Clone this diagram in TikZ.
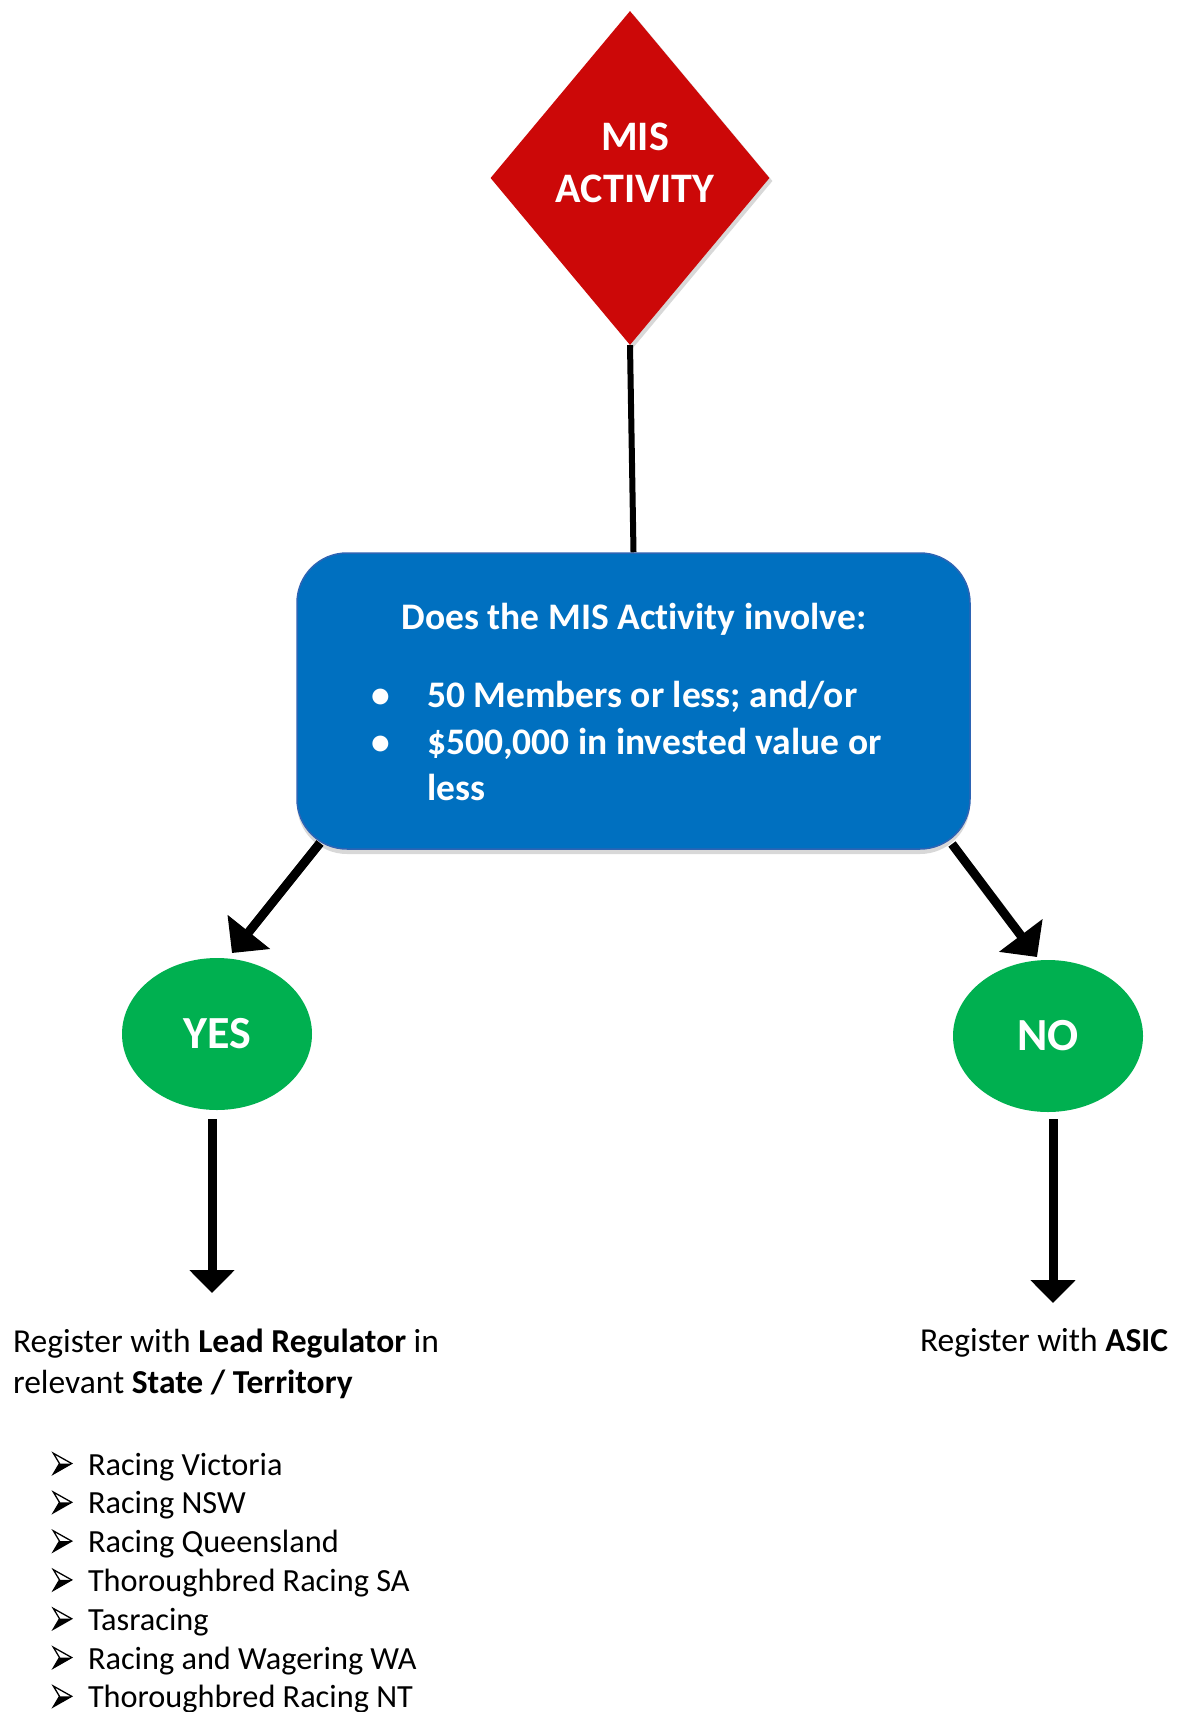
\documentclass[tikz,border=0pt]{standalone}
\usepackage{fontspec}
\setmainfont{Carlito}[Ligatures=NoCommon]
\usetikzlibrary{shapes.geometric,arrows.meta,shadows}
\definecolor{misred}{RGB}{204,8,8}
\definecolor{misblue}{RGB}{0,112,192}
\definecolor{misblueedge}{RGB}{45,100,180}
\definecolor{misgreen}{RGB}{0,176,80}
\tikzset{
  plain/.style={inner sep=0pt, outer sep=0pt},
  wtitle/.style={plain, text=white, font=\bfseries\fontsize{42}{51}\selectfont, anchor=base},
  boxtxt/.style={plain, text=white, font=\bfseries\fontsize{37.5}{46}\selectfont, anchor=base west},
  bodytxt/.style={plain, text=black, font=\fontsize{33.5}{39}\selectfont, anchor=base west},
  listtxt/.style={plain, text=black, font=\fontsize{32.3}{39}\selectfont, anchor=base west},
  answer/.style={ellipse, fill=misgreen, minimum width=190pt, minimum height=152pt, inner sep=0pt,
     text=white, font=\bfseries\fontsize{46}{50}\selectfont},
  diagarrow/.style={line width=9pt, -{Triangle[width=53pt,length=27pt]}},
  downarrow/.style={line width=9pt, -{Triangle[width=44pt,length=23pt]}},
}
\begin{document}
\begin{tikzpicture}[x=1pt,y=-1pt]
\useasboundingbox[fill=white] (0,0) rectangle (1179,1712);

% diamond
\node[diamond, fill=misred, minimum width=279pt, minimum height=334pt, inner sep=0pt,
      drop shadow={shadow xshift=3pt, shadow yshift=-3pt, opacity=0.3}] (dia) at (630,178) {};
\node[wtitle] (diaA) at (635,151) {MIS};
\node[wtitle] (diaB) at (635,202.5) {ACTIVITY};

% question box
\node[rectangle, rounded corners=50pt, fill=misblue, draw=misblueedge, line width=1.5pt,
      minimum width=673pt, minimum height=296pt, inner sep=0pt,
      drop shadow={shadow xshift=0pt, shadow yshift=-5pt, opacity=0.3}] (box) at (633.5,701) {};
\draw[line width=6pt] (dia.south) -- (box.north);
\node[boxtxt, anchor=base] (q) at (634,629.5) {Does the MIS Activity involve:};
\node[boxtxt] (b1) at (371,707) {\textbullet};
\node[boxtxt] (t1) at (427,707) {50 Members or less; and/or};
\node[boxtxt] (b2) at (371,754) {\textbullet};
\node[boxtxt] (t2) at (427,754) {\$500,000 in invested value or};
\node[boxtxt] (t3) at (427,800) {less};

% answers
\node[answer] (yes) at (217,1034) {YES};
\node[answer] (no) at (1048,1036) {NO};

\coordinate (yesFrom) at (320,843);
\coordinate (yesTo) at (232,953);
\coordinate (noFrom) at (952,844);
\coordinate (noTo) at (1037,957);
\draw[diagarrow] (yesFrom) -- (yesTo);
\draw[diagarrow] (noFrom) -- (noTo);

\coordinate (yesDownA) at (212,1119);
\coordinate (yesDownB) at (212,1293);
\coordinate (noDownA) at (1053,1119);
\coordinate (noDownB) at (1053,1303);
\draw[downarrow] (yesDownA) -- (yesDownB);
\draw[downarrow] (noDownA) -- (noDownB);

% outcomes
\node[bodytxt] (r1) at (13,1352.7) {Register with \textbf{Lead Regulator} in};
\node[bodytxt] (r2) at (13,1393) {relevant \textbf{State / Territory}};
\node[bodytxt] (asic) at (920,1351) {Register with \textbf{ASIC}};

\foreach \i/\t [count=\k from 0] in {
  l1/Racing Victoria, l2/Racing NSW, l3/Racing Queensland, l4/Thoroughbred Racing SA,
  l5/Tasracing, l6/Racing and Wagering WA, l7/Thoroughbred Racing NT}{
  \pgfmathsetmacro{\yb}{1475+38.8*\k}
  \pgfmathsetmacro{\ym}{\yb-11.5}
  \fill (59.5,\ym) -- (71.7,\ym) -- (53.3,\ym+10.5) -- cycle;
  \draw[line width=1.3pt, line join=miter] (71.7,\ym) -- (53.3,\ym-10.3) -- (59.5,\ym) -- (53.3,\ym+10.5) -- cycle;
  \node[listtxt] (\i) at (88,\yb) {\t};
}
\end{tikzpicture}
\end{document}
